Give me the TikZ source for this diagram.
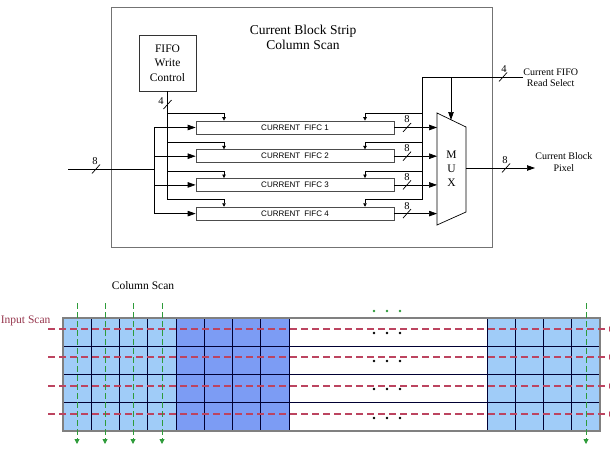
\documentclass[tikz,border=0pt]{standalone}
\usepackage{fontspec}
\setmainfont{Liberation Serif}
\newfontfamily\fifofont{Liberation Sans}
\usetikzlibrary{arrows.meta,positioning}
\definecolor{lightcell}{HTML}{A0CCF8}
\definecolor{darkcell}{HTML}{7C9CF4}
\definecolor{scanred}{HTML}{BC4460}
\definecolor{scangreen}{HTML}{2E9B3A}
\newcommand{\busmark}[3]{\draw (#1) ++(-4,4.5) -- ++(8,-9); \path (#1) ++(#2) node[bitw] {#3};}

\begin{document}
\begin{tikzpicture}[x=1pt, y=-1pt, line width=0.7pt,
	fifo/.style = {draw=black!70, minimum width=198pt, minimum height=13pt, inner sep=0pt, font=\fifofont\fontsize{8}{9}\selectfont},
	ctrl/.style = {draw=black!80, minimum width=57pt, minimum height=56pt, inner sep=1pt, align=center, font=\fontsize{11.5}{14.5}\selectfont},
	txt/.style = {align=center, inner sep=0pt},
	bitw/.style = {inner sep=0pt, font=\fontsize{10.5}{11}\selectfont},
	sig/.style = {align=center, inner sep=0pt, font=\fontsize{10}{11.5}\selectfont},
	bigtip/.style = {-{Triangle[length=8pt,width=5.5pt]}},
	smalltip/.style = {-{Triangle[length=3.5pt,width=3.5pt]}},
	rowscan/.style = {draw=scanred, line width=1.05pt, dash pattern=on 7pt off 4pt, -{Triangle[length=5pt,width=5pt]}},
	colscan/.style = {draw=scangreen, line width=0.9pt, dash pattern=on 6pt off 3pt, -{Triangle[length=5pt,width=5pt]}},
	cellline/.style = {draw=black!80!blue, line width=0.6pt}]

	\useasboundingbox (0,0) rectangle (610,466);

	\draw[draw=black!55] (111,7) rectangle (492,247);
	\node[txt, font=\fontsize{13.5}{15}\selectfont] (title) at (303,37) {Current Block Strip\\Column Scan};
	\node[ctrl] (wc) at (167.5,63) {FIFO\\Write\\Control};

	\node[fifo] (f1) at (295,127.5) {CURRENT\enspace FIFC 1};
	\node[fifo] (f2) [below=15pt of f1] {CURRENT\enspace FIFC 2};
	\node[fifo] (f3) [below=15pt of f2] {CURRENT\enspace FIFC 3};
	\node[fifo] (f4) [below=15pt of f3] {CURRENT\enspace FIFC 4};

	\draw (437,113) -- (466,127) -- (466,212) -- (437,225) -- cycle;
	\node[txt, font=\fontsize{11.5}{14}\selectfont] (mux) at (451.5,169) {M\\U\\X};
	\coordinate (ml) at (437,0);
	\coordinate (sel) at (451,120);
	\coordinate (out) at (466,168);

	\coordinate (in) at (68,169);
	\coordinate (ib) at (154,169);
	\coordinate (rs) at (422,77);
	\coordinate (bm) at (407,0);
	\foreach \i in {1,...,4} {
		\coordinate (t\i) at ([yshift=7pt]f\i.north);
	}

	\draw (in) -- (ib);
	\draw (ib |- f1.west) -- (ib |- f4.west);
	\draw (wc.south) -- (wc.south |- t4);
	\draw (rs) -- (rs |- t4);
	\foreach \i in {1,...,4} {
		\draw[bigtip] (ib |- f\i.west) -- (f\i.west);
		\draw[smalltip] (wc.south |- t\i) -| ([xshift=-71pt]f\i.north);
		\draw[smalltip] (rs |- t\i) -| ([xshift=70pt]f\i.north);
		\draw[bigtip] (f\i.east) -- (f\i.east -| ml);
		\busmark{f\i.east -| bm}{0,-8}{8}
	}

	\node[sig, anchor=west] (rd) at (523,77.5) {Current FIFO\\Read Select};
	\node[sig, anchor=west] (px) at (535,162) {Current Block\\Pixel};
	\draw (rd.west |- rs) -- (rs);
	\draw[bigtip] (rs -| sel) -- (sel);
	\draw[bigtip] (out) -- (out -| px.west);

	\busmark{96,169}{-1,-7.5}{8}
	\busmark{167.5,104.5}{-6.5,-3}{4}
	\busmark{503,77}{1,-7.5}{4}
	\busmark{506,168}{-1,-8}{8}

	\node[font=\fontsize{11.5}{13}\selectfont] (cs) at (143,286) {Column Scan};
	\node[font=\fontsize{11.5}{13}\selectfont, text=scanred!80!black, anchor=west, inner sep=0pt] (is) at (0.5,321) {Input Scan};

	\fill[lightcell] (63,318) rectangle (176,431);
	\fill[darkcell] (176,318) rectangle (289,431);
	\fill[lightcell] (487,318) rectangle (600,431);
	\foreach \x in {91.25,119.5,147.75,176,204.25,232.5,260.75,289,487,515.25,543.5,571.75} {
		\draw[cellline] (\x,318) -- (\x,431);
	}
	\foreach \y in {346.25,374.5,402.75} {
		\draw[cellline] (63,\y) -- (600,\y);
	}
	\draw[draw=black!50, line width=1.2pt] (63,318) rectangle (600,431);

	\foreach \y in {329,357,386,414} {
		\draw[rowscan] (48,\y) -- (614,\y);
	}
	\foreach \x in {77,105,133,162,586} {
		\draw[colscan] (\x,303) -- (\x,444);
	}
	\foreach \x in {374,387,400} {
		\fill[scangreen] (\x,311) circle (1.3pt);
		\foreach \y in {333,361,389,418} {
			\fill (\x,\y) circle (1.3pt);
		}
	}
\end{tikzpicture}
\end{document}
